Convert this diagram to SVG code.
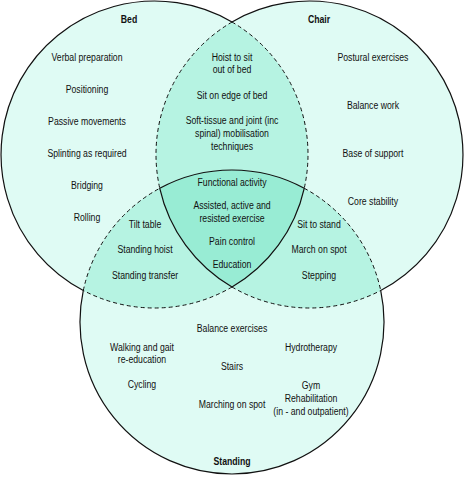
<svg xmlns="http://www.w3.org/2000/svg" width="464" height="479" viewBox="0 0 464 479">
<style>
.single{fill:#dffbf4}
.double{fill:#b6f3e2}
.triple{fill:#98ecd4}
.solid{fill:none;stroke:#111;stroke-width:1.2}
.dash{fill:none;stroke:#111;stroke-width:1;stroke-dasharray:4 3}
text{font-family:"Liberation Sans",Arial,sans-serif;font-size:10px;fill:#111;text-anchor:middle}
.title{font-weight:bold}
</style>
<rect width="464" height="479" fill="#ffffff"/>
<g id="regions">
<path id="union" class="single" d="M232,22 A153.5,153.5 0 1 0 83.3,290.49 A152,152 0 1 0 380.7,290.49 A153.5,153.5 0 1 0 232,22 Z"/>
<path id="bed-chair" class="double" d="M232,22 A153.5,153.5 0 0 1 232,287 A153.5,153.5 0 0 1 232,22 Z"/>
<path id="bed-standing" class="double" d="M83.3,290.49 A152,152 0 0 1 304.24,188.27 A153.5,153.5 0 0 1 83.3,290.49 Z"/>
<path id="chair-standing" class="double" d="M380.7,290.49 A152,152 0 0 0 159.76,188.27 A153.5,153.5 0 0 0 380.7,290.49 Z"/>
<path id="all-three" class="triple" d="M159.76,188.27 A152,152 0 0 1 304.24,188.27 A153.5,153.5 0 0 1 232,287 A153.5,153.5 0 0 1 159.76,188.27 Z"/>
</g>
<g id="outlines">
<path class="solid" d="M232,22 A153.5,153.5 0 1 0 83.3,290.49 A152,152 0 1 0 380.7,290.49 A153.5,153.5 0 1 0 232,22 Z"/>
<path class="solid" d="M159.76,188.27 A152,152 0 0 1 304.24,188.27 A153.5,153.5 0 0 1 232,287 A153.5,153.5 0 0 1 159.76,188.27 Z"/>
<path class="dash" d="M232,22 A153.5,153.5 0 0 1 304.24,188.27"/>
<path class="dash" d="M232,287 A153.5,153.5 0 0 1 83.3,290.49"/>
<path class="dash" d="M232,22 A153.5,153.5 0 0 0 159.76,188.27"/>
<path class="dash" d="M232,287 A153.5,153.5 0 0 0 380.7,290.49"/>
<path class="dash" d="M83.3,290.49 A152,152 0 0 1 159.76,188.27"/>
<path class="dash" d="M304.24,188.27 A152,152 0 0 1 380.7,290.49"/>
</g>
<g transform="scale(0.87,1)">
<g id="bed">
<text class="title" x="148.3" y="23">Bed</text>
<text x="100" y="61">Verbal preparation</text>
<text x="100" y="93">Positioning</text>
<text x="100" y="125">Passive movements</text>
<text x="100" y="157">Splinting as required</text>
<text x="100" y="189">Bridging</text>
<text x="100" y="221">Rolling</text>
</g>
<g id="chair">
<text class="title" x="366.7" y="23">Chair</text>
<text x="428.7" y="61">Postural exercises</text>
<text x="428.7" y="109">Balance work</text>
<text x="428.7" y="157">Base of support</text>
<text x="428.7" y="205">Core stability</text>
</g>
<g id="standing">
<text class="title" x="266.7" y="465.5">Standing</text>
<text x="266.7" y="332">Balance exercises</text>
<text x="163.2" y="351">Walking and gait</text>
<text x="163.2" y="363.5">re-education</text>
<text x="163.2" y="388.5">Cycling</text>
<text x="266.7" y="370">Stairs</text>
<text x="266.7" y="408.5">Marching on spot</text>
<text x="357.5" y="351">Hydrotherapy</text>
<text x="357.5" y="389.5">Gym</text>
<text x="357.5" y="402.3">Rehabilitation</text>
<text x="357.5" y="415">(in - and outpatient)</text>
</g>
<g id="bed-chair-text">
<text x="266.7" y="61">Hoist to sit</text>
<text x="266.7" y="73">out of bed</text>
<text x="266.7" y="99">Sit on edge of bed</text>
<text x="266.7" y="124">Soft-tissue and joint (inc</text>
<text x="266.7" y="137">spinal) mobilisation</text>
<text x="266.7" y="150">techniques</text>
</g>
<g id="bed-standing-text">
<text x="166.7" y="228">Tilt table</text>
<text x="166.7" y="253.5">Standing hoist</text>
<text x="166.7" y="279">Standing transfer</text>
</g>
<g id="chair-standing-text">
<text x="366.7" y="228">Sit to stand</text>
<text x="366.7" y="253.5">March on spot</text>
<text x="366.7" y="279">Stepping</text>
</g>
<g id="all-three-text">
<text x="266.7" y="185.7">Functional activity</text>
<text x="266.7" y="209">Assisted, active and</text>
<text x="266.7" y="222">resisted exercise</text>
<text x="266.7" y="245">Pain control</text>
<text x="266.7" y="268.5">Education</text>
</g>
</g>
</svg>
